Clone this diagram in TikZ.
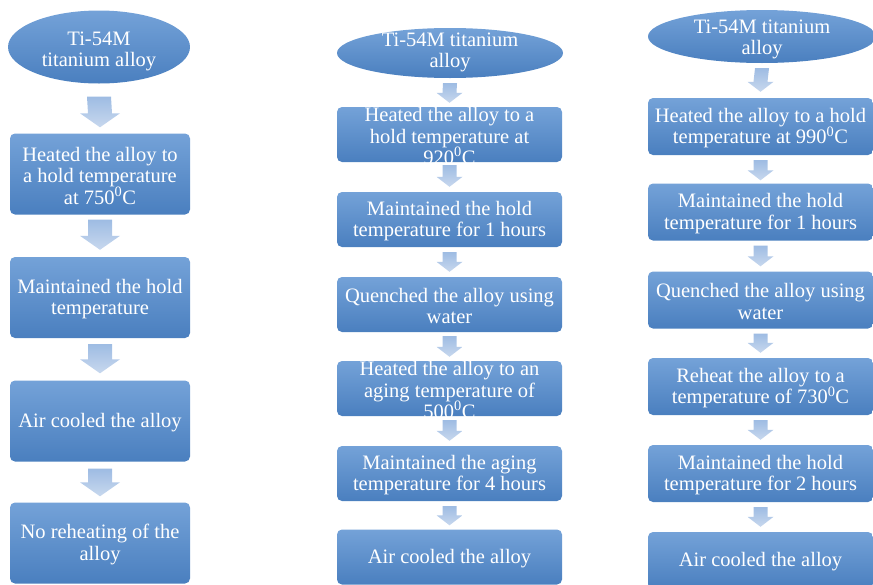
\documentclass[tikz,border=0pt]{standalone}
\usepackage{fontspec}
\setmainfont{Liberation Serif}
\usetikzlibrary{shapes.geometric,calc}
\definecolor{boxtop}{RGB}{116,162,216}
\definecolor{boxbot}{RGB}{74,127,191}
\definecolor{arrtop}{RGB}{158,188,227}
\definecolor{arrbot}{RGB}{200,216,238}
\tikzset{
  box/.style={rectangle, rounded corners=5pt, top color=boxtop, bottom color=boxbot, draw=none, inner sep=0pt},
  oval/.style={ellipse, top color=boxtop, bottom color=boxbot, draw=none, inner sep=0pt},
  txt/.style={text=white, align=center, inner sep=0pt, yshift=-1.5pt, font=\fontsize{20.5}{21.5}\selectfont},
  arrowfill/.style={top color=arrtop, bottom color=arrbot, draw=none}
}
\newcommand\barrow[7]{%
  \shade[arrowfill] ($(#1.south)+(-#3,#6)$) -- ($(#1.south)+(#3,#6)$) --
    ($(#2.north)+(#3,-#7-#5)$) -- ($(#2.north)+(#4,-#7-#5)$) --
    ($(#2.north)+(0,-#7)$) -- ($(#2.north)+(-#4,-#7-#5)$) --
    ($(#2.north)+(-#3,-#7-#5)$) -- cycle;}
\begin{document}
\begin{tikzpicture}[x=1pt,y=-1pt]
\useasboundingbox (0,0) rectangle (873,584);
% Column 1
\node[oval, minimum width=182pt, minimum height=73pt] (e1) at (99,47) {};
\node[txt] (te1) at (99,50) {Ti-54M\\titanium alloy};
\foreach \n/\y in {1/174,2/297.5,3/421,4/543}{
  \node[box, minimum width=180pt, minimum height=81pt] (a\n) at (100,\y) {};
}
\node[txt] (ta1) at (a1) {Heated the alloy to\\a hold temperature\\at 750\textsuperscript{0}C};
\node[txt] (ta2) at (a2) {Maintained the hold\\temperature};
\node[txt] (ta3) at (a3) {Air cooled the alloy};
\node[txt] (ta4) at (a4) {No reheating of the\\alloy};
\barrow{e1}{a1}{12}{20}{14}{13}{6}
\barrow{a1}{a2}{12}{20}{14}{5}{7}
\barrow{a2}{a3}{12}{20}{14}{6}{7}
\barrow{a3}{a4}{12}{20}{14}{7}{6}
% Column 2
\node[oval, minimum width=226pt, minimum height=50pt] (e2) at (450,53) {};
\node[txt] (te2) at (450,51) {Ti-54M titanium\\alloy};
\foreach \n/\y in {1/134.5,2/219.5,3/304.5,4/388.5,5/473.5,6/557}{
  \node[box, minimum width=225pt, minimum height=55pt] (b\n) at (449.5,\y) {};
}
\node[txt] (tb1) at (b1) {Heated the alloy to a\\hold temperature at\\920\textsuperscript{0}C};
\node[txt] (tb2) at (b2) {Maintained the hold\\temperature for 1 hours};
\node[txt] (tb3) at (b3) {Quenched the alloy using\\water};
\node[txt] (tb4) at (b4) {Heated the alloy to an\\aging temperature of\\500\textsuperscript{0}C};
\node[txt] (tb5) at (b5) {Maintained the aging\\temperature for 4 hours};
\node[txt] (tb6) at (b6) {Air cooled the alloy};
\barrow{e2}{b1}{7}{13}{10}{5}{4}
\barrow{b1}{b2}{7}{13}{10}{3}{5}
\barrow{b2}{b3}{7}{13}{10}{5}{5}
\barrow{b3}{b4}{7}{13}{10}{4}{4}
\barrow{b4}{b5}{7}{13}{10}{4}{5}
\barrow{b5}{b6}{7}{13}{10}{5}{4}
% Column 3
\node[oval, minimum width=228pt, minimum height=53pt] (e3) at (762,36.5) {};
\node[txt] (te3) at (762,38) {Ti-54M titanium\\alloy};
\foreach \n/\y in {1/126.5,2/212,3/300,4/386.5,5/473.5,6/560.5}{
  \node[box, minimum width=225pt, minimum height=57pt] (c\n) at (760.5,\y) {};
}
\node[txt] (tc1) at (c1) {Heated the alloy to a hold\\temperature at 990\textsuperscript{0}C};
\node[txt] (tc2) at (c2) {Maintained the hold\\temperature for 1 hours};
\node[txt] (tc3) at (c3) {Quenched the alloy using\\water};
\node[txt] (tc4) at (c4) {Reheat the alloy to a\\temperature of 730\textsuperscript{0}C};
\node[txt] (tc5) at (c5) {Maintained the hold\\temperature for 2 hours};
\node[txt] (tc6) at (c6) {Air cooled the alloy};
\barrow{e3}{c1}{7}{13}{10}{5}{6}
\barrow{c1}{c2}{7}{13}{10}{5}{3}
\barrow{c2}{c3}{7}{13}{10}{5}{5}
\barrow{c3}{c4}{7}{13}{10}{5}{5}
\barrow{c4}{c5}{7}{13}{10}{5}{5}
\barrow{c5}{c6}{7}{13}{10}{5}{5}
\end{tikzpicture}
\end{document}
